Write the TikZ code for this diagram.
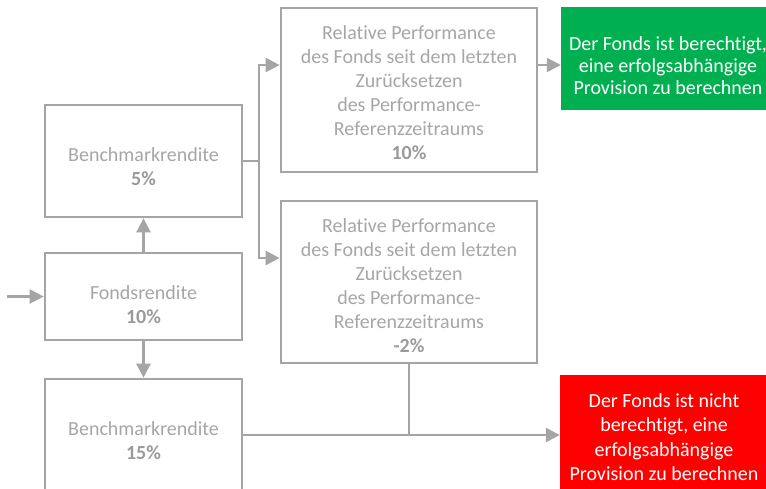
\documentclass[tikz,border=0pt]{standalone}
\usepackage{fontspec}
\setmainfont{Carlito}[Ligatures={NoCommon}]
\usetikzlibrary{arrows.meta,calc}
\definecolor{ln}{HTML}{A5A5A5}
\definecolor{tx}{HTML}{A6A6A6}
\definecolor{txb}{HTML}{9A9A9A}
\definecolor{gr}{HTML}{00B050}
\definecolor{rd}{HTML}{FF0000}
\newcommand{\pct}[1]{\textcolor{txb}{\textbf{#1}}}
\begin{document}
\begin{tikzpicture}[x=1pt,y=-1pt,
  box/.style={draw=ln, line width=2.7pt, inner sep=0pt},
  gtext/.style={text=tx, align=center, font=\fontsize{20}{24}\selectfont, inner sep=0pt},
  wtext/.style={text=white, align=center, inner sep=0pt},
  res/.style={inner sep=0pt},
  conn/.style={draw=ln, line width=2.5pt},
  tip/.style={-{Triangle[length=14pt,width=14pt]}},
  arr/.style={conn, tip}]
\clip (0,0) rectangle (766,488);
% boxes
\node[box, minimum width=197pt, minimum height=112pt,
  label={[gtext, yshift=-6pt]center:Benchmarkrendite\\\pct{5\%}}] (b5) at (143.5,161) {};
\node[box, minimum width=197pt, minimum height=87pt,
  label={[gtext, yshift=-8pt]center:Fondsrendite\\\pct{10\%}}] (fonds) at (143.5,296.5) {};
\node[box, minimum width=197pt, minimum height=112pt,
  label={[gtext, yshift=-6pt]center:Benchmarkrendite\\\pct{15\%}}] (b15) at (143.5,435) {};
\node[box, minimum width=256pt, minimum height=164pt,
  label={[gtext, yshift=-3pt]center:Relative Performance\\des Fonds seit dem letzten\\Zurücksetzen\\des Performance-\\Referenzzeitraums\\\pct{10\%}}] (reltop) at (409,90) {};
\node[box, minimum width=256pt, minimum height=162pt,
  label={[gtext, yshift=-4pt]center:Relative Performance\\des Fonds seit dem letzten\\Zurücksetzen\\des Performance-\\Referenzzeitraums\\\pct{-2\%}}] (relbot) at (409,282) {};
\node[res, fill=gr, minimum width=214pt, minimum height=103pt,
  label={[wtext, font=\fontsize{20}{22}\selectfont, yshift=-7pt]center:Der Fonds ist berechtigt,\\eine erfolgsabhängige\\Provision zu berechnen}] (green) at (668,58.5) {};
\node[res, fill=rd, minimum width=208pt, minimum height=120pt,
  label={[wtext, font=\fontsize{20}{24.5}\selectfont, yshift=-2pt]center:Der Fonds ist nicht\\berechtigt, eine\\erfolgsabhängige\\Provision zu berechnen}] (red) at (664,435) {};
% connectors
\coordinate (in) at (7,296.5);
\draw[arr] (in) -- (fonds.west);
\draw[arr] (fonds.north) -- (b5.south);
\draw[arr] (fonds.south) -- (b15.north);
\coordinate (j1) at (259,161);
\coordinate (jt) at (259,65);
\coordinate (jb) at (259,258);
\draw[conn] (b5.east) -- (j1);
\draw[conn, {Triangle[length=14pt,width=14pt]}-{Triangle[length=14pt,width=14pt]}]
  (reltop.west |- jt) -- (jt) -- (jb) -- (relbot.west |- jb);
\coordinate (g1) at (reltop.east |- jt);
\draw[arr] (g1) -- (green.west |- g1);
\coordinate (jr) at (relbot.south |- b15.east);
\draw[conn] (relbot.south) -- (jr);
\draw[arr] (b15.east) -- (red.west |- b15.east);
\end{tikzpicture}
\end{document}
